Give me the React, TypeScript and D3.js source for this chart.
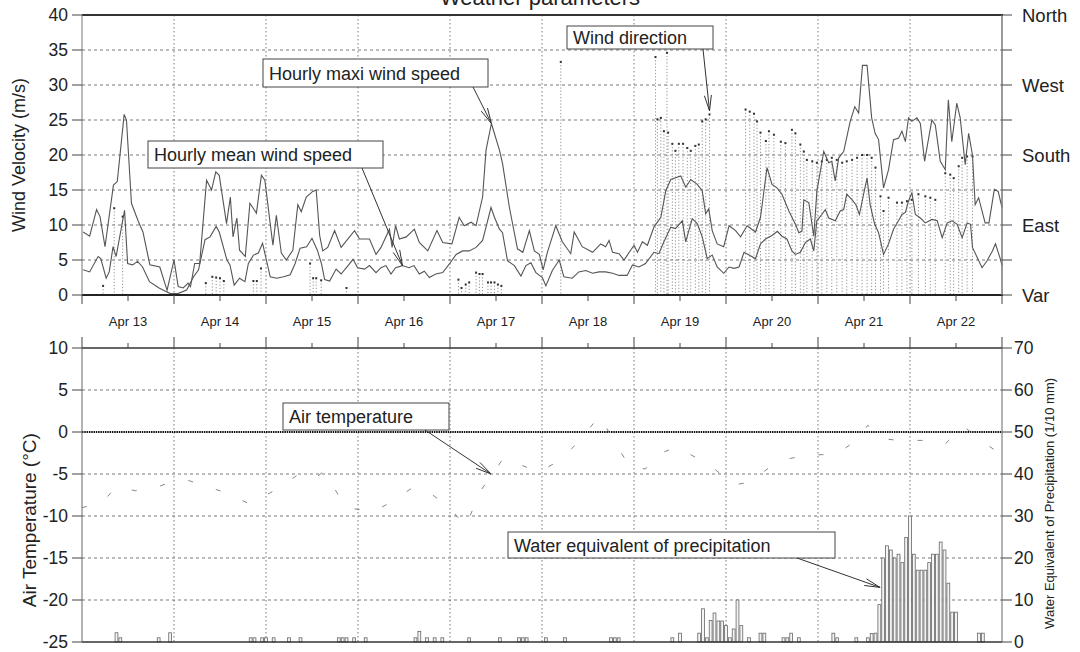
import React from "react";
import * as d3 from "d3";

// hours counted from Apr 13 00:00
const dayLabels = ["Apr 13", "Apr 14", "Apr 15", "Apr 16", "Apr 17", "Apr 18", "Apr 19", "Apr 20", "Apr 21", "Apr 22"];
const windTicks = [0, 5, 10, 15, 20, 25, 30, 35, 40];
const dirLabels = [
  { v: 40, t: "North" },
  { v: 30, t: "West" },
  { v: 20, t: "South" },
  { v: 10, t: "East" },
  { v: 0, t: "Var" },
];
const tempTicks = [10, 5, 0, -5, -10, -15, -20, -25];
const precTicks = [0, 10, 20, 30, 40, 50, 60, 70];

const maxWind = [
  [0.3, 9], [2, 8.4], [3.8, 12.2], [4.7, 11.2], [6, 6.9], [8.2, 15.7], [9.2, 16.2], [11, 25.8], [11.6, 25],
  [12.9, 13.1], [14.7, 10.5], [15.9, 9], [17.7, 4.3], [20.3, 4], [21.6, 1.7], [22.2, 0.7], [24, 5], [25.1, 1.2],
  [26.4, 1], [27.7, 1.7], [28.3, 1.2], [29.4, 4.5], [30.7, 4.5], [32.5, 16.4], [33.8, 15], [34.9, 17.6],
  [35.8, 17.1], [37.7, 10.2], [38.7, 14], [39.4, 8.3], [40.4, 11], [41.1, 6.4], [42.6, 5.5], [43.8, 13.1],
  [45.5, 11.7], [46.8, 17.1], [47.7, 16.4], [49.8, 7.1], [50.7, 11.4], [52, 6], [53.3, 5], [55, 6.4],
  [56.3, 12.9], [57.2, 11.9], [58.5, 14], [60.2, 14.8], [61.1, 15], [62, 8.5], [62.8, 6.3], [64.1, 6.8],
  [65.9, 9.2], [67.6, 6.8], [71.1, 9.2], [72.4, 8], [75, 8], [76.7, 5.8], [78, 6.8], [80.2, 9.4], [80.9, 6.8],
  [81.8, 9.9], [82.8, 8], [84.6, 8.3], [86.7, 9.4], [88, 7.5], [90.2, 6.3], [92.6, 9.2], [94.1, 7.5],
  [96.5, 7.3], [98.4, 11.1], [99.7, 9.9], [101.5, 10.4], [102.8, 9.9], [104.5, 14], [105.4, 20.7],
  [106.8, 24.5], [108.9, 20.7], [109.7, 18.8], [111.5, 12.5], [113.6, 6.6], [115, 6.1], [116.7, 9.2],
  [118, 6.3], [119.3, 5.8], [120.3, 3.6], [121.4, 6.1], [123.6, 9.9], [125.3, 7.6], [127.5, 5.9], [128.4, 9],
  [130.5, 6.9], [133.2, 6.1], [135.3, 7.3], [136.6, 6.9], [137.5, 7.8], [138.4, 6.1], [140.1, 5.9], [141.4, 5],
  [144, 7.1], [144.9, 6.1], [146.2, 7.6], [147.5, 7.1], [149.2, 9.7], [151, 11.1], [152.3, 14.9], [153.6, 16.5],
  [156.2, 17], [157.5, 15.4], [158.8, 16.5], [160.5, 15.8], [161.8, 14.9], [162.7, 11.6], [163.5, 12.3],
  [164.4, 9.2], [165.7, 7.3], [167.4, 6.9], [168.8, 9.9], [170.5, 9.2], [171.8, 8.3], [173.5, 9.9], [175.7, 9],
  [177, 11.1], [178.7, 18.2], [180, 15.8], [181.3, 15.3], [182.6, 14.4], [184.4, 12], [186.1, 10.1], [187, 8.9],
  [187.8, 9.1], [188.3, 13.6], [189.6, 13.2], [190.9, 8.4], [191.7, 14.8], [193.5, 20.5], [194.8, 18.9],
  [195.6, 19.1], [196.5, 16.3], [197.4, 19.6], [198.7, 20.5], [200.4, 24.8], [201.6, 26.9], [202.6, 26],
  [203.6, 32.8], [204.8, 32.8], [206, 25.3], [206.9, 23.1], [207.8, 22.2], [209.1, 15.3], [210.4, 17.9],
  [211.7, 22.2], [213, 22.4], [213.9, 23.4], [214.8, 21.9], [215.6, 25.3], [216.5, 24.8], [217.8, 25.3],
  [218.7, 24.5], [219.8, 19.1], [221.7, 25], [222.6, 24.3], [223.9, 19.1], [225.2, 17.9], [226, 27.9],
  [226.9, 21.9], [228.2, 27.4], [229.1, 25.3], [230.4, 18.6], [231.3, 23.1], [232.3, 20], [233, 12.9],
  [233.9, 13.9], [235.6, 10.3], [236.6, 10.3], [238, 15.1], [239, 14.8], [240, 12.5],
];

const meanWind = [
  [0.3, 3.6], [2, 3.3], [4.2, 5.5], [4.9, 5.2], [6.3, 2.4], [7.1, 3.3], [8.1, 6.9], [8.9, 5.5], [11.1, 12.1],
  [11.9, 4.5], [13.2, 4.3], [14.5, 4.8], [15.8, 4], [17.6, 1.9], [20.1, 1], [21.9, 0.5], [23.1, 0.2], [25, 0.2],
  [27.3, 0.7], [29.1, 2.6], [30.4, 3.6], [32.1, 7.9], [33.4, 8.3], [35, 9.8], [35.8, 9], [37.8, 5], [38.6, 4.3],
  [39.7, 1.4], [41.1, 2.4], [42.5, 1.9], [43.4, 4.5], [44.7, 5.7], [46, 6], [47.1, 7.4], [48.1, 5], [49.1, 2.6],
  [50.8, 2.4], [52.6, 2.6], [54.3, 2.9], [55.6, 4.5], [56.9, 6.7], [58.6, 6.9], [60, 8.1], [61.4, 6.4],
  [62.5, 4.4], [63.3, 2.2], [64.6, 2], [66.3, 3.7], [67.6, 3], [69.4, 4.2], [70.7, 5.1], [71.9, 3.9], [73.7, 3.7],
  [75, 4.2], [76.7, 3.2], [78, 3.9], [79.3, 4.2], [80.6, 3], [81.8, 3.9], [83.6, 4.2], [85.3, 3.9], [86.6, 4.2],
  [88, 3], [89.3, 3.4], [90.6, 2.5], [92.3, 3], [94.1, 3.2], [95.8, 4.4], [97.6, 5.8], [99.3, 6.3], [101, 6.3],
  [102.8, 6.8], [104.5, 7.8], [105.4, 9.7], [106.7, 12.5], [107.6, 11.1], [108.9, 9.4], [109.7, 8.9], [111, 4.9],
  [112.8, 4.2], [114.5, 2.7], [115.8, 4.2], [117.1, 4.6], [118.4, 3.2], [120.1, 2.5], [121, 1.3], [122.7, 3.5],
  [124.5, 5], [125.7, 2.6], [127.9, 2.4], [129.6, 3.3], [131.4, 3.5], [133.2, 3.1], [134.9, 3.3], [136.6, 3.3],
  [138.4, 3.1], [140.1, 2.8], [142.2, 2.8], [143.6, 4.3], [145.3, 4], [147, 4.5], [149.2, 6.1], [150.5, 5.9],
  [151.8, 7.6], [153.6, 9.7], [154.8, 9.5], [156.6, 10.6], [157.5, 7.6], [158.3, 9.2], [159.2, 10.9],
  [160.5, 10.2], [161.8, 8.3], [163.1, 5.2], [164.4, 5.7], [165.7, 4], [167.4, 3.1], [168.8, 4], [170.1, 3.8],
  [171.4, 4], [172.7, 6.1], [174, 5.7], [175.7, 5.2], [177, 7.3], [178.3, 8], [180, 8.5], [181.4, 9.1],
  [182.6, 8.4], [183.9, 8], [185.2, 6.3], [186.1, 5.8], [187.4, 6.1], [188.7, 7.5], [190, 8], [190.9, 6.3],
  [191.7, 10.6], [193, 11.5], [193.9, 12.2], [194.8, 11], [196.5, 10.6], [197.8, 12], [198.7, 12.2],
  [199.5, 14.4], [200.9, 13.6], [201.9, 12.9], [202.8, 11.5], [203.9, 14.4], [204.8, 16.7], [205.6, 12.9],
  [206.8, 10.1], [207.8, 8.9], [209.1, 5.8], [210.4, 7.3], [211.7, 9.4], [213, 10.6], [213.9, 11.5],
  [214.8, 11.8], [215.6, 13.4], [216.5, 14.6], [217.4, 11.5], [218.7, 11], [220, 10.3], [221.7, 10.8],
  [223.1, 10.6], [224.4, 8.2], [225.7, 10.3], [227, 10.6], [228.3, 10.1], [229.6, 8.2], [230.9, 10.3],
  [231.8, 10.1], [232.3, 6.8], [233.5, 5.4], [234.8, 3.9], [236.1, 4.9], [237.5, 6.3], [238.3, 7.3],
  [239.6, 5.1], [240, 4.2],
];

const windDir = [
  [5.5, 1.3], [8.4, 12.4], [10.6, 11.2], [32.3, 1.7], [34, 2.6], [35, 2.5], [36, 2.4], [37, 2], [44.7, 2],
  [45.6, 2], [46.7, 3.8], [59.5, 4.5], [60.3, 2.4], [61.1, 2.4], [62.4, 2.1], [69, 1], [98.2, 2.2], [99, 1],
  [100.1, 1.5], [101, 1.8], [102.8, 3.2], [103.7, 3], [104.5, 3], [105.9, 1.8], [106.7, 1.8], [107.6, 1.8],
  [108.5, 1.5], [109.4, 1.3], [124.9, 33.3], [149.6, 34], [150.1, 25.1], [151, 25.3], [151.8, 23.4],
  [152.6, 34.6], [152.9, 23.2], [154, 21.6], [154.8, 20.6], [155.7, 21.6], [156.8, 21.6], [157.9, 21],
  [158.8, 20.6], [160, 21.3], [160.9, 21.5], [161.8, 24.8], [162.7, 25.1], [163.7, 25.8], [173.1, 26.5],
  [174.2, 26.2], [175.3, 25.9], [176.1, 24.8], [177, 23.2], [178.4, 22], [179.2, 23.4], [180.5, 22.9],
  [182.3, 21.9], [183.5, 21.7], [185.2, 23.6], [186.1, 23.1], [187.4, 21.5], [188.3, 20.5], [189.1, 19.3],
  [190.5, 19.1], [191.7, 18.9], [193, 19.1], [194.3, 19.3], [195.6, 19.6], [196.9, 19.3], [198.3, 18.9],
  [199.5, 19.1], [200.9, 19.3], [202.2, 19.6], [203.5, 20], [204.8, 20], [206, 19.6], [207, 18.2],
  [208.3, 14.1], [209.1, 12], [210.4, 13.9], [212.6, 13.2], [213.9, 13.2], [215.2, 13.4], [216.5, 13.6],
  [218.2, 14.4], [220, 14.1], [221.3, 13.9], [222.6, 13.6], [225.2, 17.4], [226.5, 17.2], [227.4, 16.7],
  [228.7, 18.4], [229.6, 19.6], [230.9, 19.8], [232.3, 19.8],
];

const airTemp = [
  [0, -9], [5, -8.5], [9, -6.5], [14, -7], [20, -6.5], [24, -5.8], [28, -5.8], [36, -7], [44, -8.6], [50, -7],
  [56, -5.2], [60, -5.8], [63, -4.7], [69, -9], [76, -9.5], [80, -8.5], [86, -6.7], [90, -7], [96, -9],
  [100, -11.3], [104, -7], [107, -5], [110, -3.1], [116, -4.2], [119, -4.8], [125, -3.3], [130, -0.9],
  [135, 1.9], [140, -2], [143, -4.2], [147, -4.4], [150, -2.7], [155, -1.8], [160, -3], [165, -4.4],
  [170, -6.3], [174, -6], [180, -4], [184, -3.2], [189, -2.8], [197, -2.6], [202, -1], [205, 0.8], [209, -0.8],
  [213, -1], [220, -1], [225, -1.5], [230, 0.7], [234, -0.9], [238, -2.1], [240, -2.5],
];

// hourly precipitation (hour index, 1/10 mm)
const precip = [
  [9, 2.2], [10, 1], [20, 1], [23, 2.2], [44, 1], [45, 1], [47, 1], [48, 1], [50, 1], [54, 1], [57, 1], [67, 1],
  [68, 1], [69, 1], [71, 1], [74, 1], [87, 1], [88, 2.5], [90, 1], [92, 1], [94, 1], [101, 1], [109, 1], [114, 1],
  [115, 1], [116, 1], [121, 1], [126, 1], [138, 1], [139, 1], [140, 1], [154, 1], [156, 2.1], [161, 2.1],
  [162, 7.9], [163, 1], [164, 5.1], [165, 6.9], [166, 5], [167, 5], [168, 3.9], [169, 1], [170, 3.1], [171, 10],
  [172, 3.9], [174, 1], [177, 2.1], [178, 2.1], [183, 1], [184, 1], [185, 2.1], [187, 1], [196, 2.1], [197, 1],
  [202, 1], [205, 1], [206, 2], [207, 2.1], [208, 8.9], [209, 20], [210, 22.9], [211, 21.9], [212, 20],
  [213, 20.9], [214, 18.9], [215, 24.9], [216, 30], [217, 20.9], [218, 17.1], [219, 17.1], [220, 17.1],
  [221, 18.9], [222, 20.9], [223, 20.9], [224, 23.8], [225, 21.9], [226, 14], [227, 7.1], [228, 7.1],
  [234, 2.1], [235, 2.1],
];

const FONT = "'Liberation Sans', Arial, Helvetica, sans-serif";
const INK = "#222";

function Callout({ x, y, w, h, label, from, to }) {
  const ang = Math.atan2(to[1] - from[1], to[0] - from[0]);
  const len = 16;
  const spread = 0.22;
  const b1 = [to[0] - len * Math.cos(ang - spread), to[1] - len * Math.sin(ang - spread)];
  const b2 = [to[0] - len * Math.cos(ang + spread), to[1] - len * Math.sin(ang + spread)];
  return (
    <g>
      <rect x={x} y={y} width={w} height={h} fill="#fff" stroke="#444" strokeWidth={1} />
      <text x={x + 6} y={y + h / 2 + 6.5} fontSize={18} fontFamily={FONT} fill={INK}>
        {label}
      </text>
      <line x1={from[0]} y1={from[1]} x2={to[0]} y2={to[1]} stroke="#333" strokeWidth={1} />
      <line x1={b1[0]} y1={b1[1]} x2={to[0]} y2={to[1]} stroke="#333" strokeWidth={1} />
      <line x1={b2[0]} y1={b2[1]} x2={to[0]} y2={to[1]} stroke="#333" strokeWidth={1} />
    </g>
  );
}

export default function App() {
  const width = 1080;
  const height = 652;

  const x = d3.scaleLinear().domain([0, 240]).range([82, 1002]);
  const yWind = d3.scaleLinear().domain([0, 40]).range([295, 15]);
  const yTemp = d3.scaleLinear().domain([-25, 10]).range([642, 348]);
  const yPrec = d3.scaleLinear().domain([0, 70]).range([642, 348]);

  const windLine = d3
    .line()
    .x((d) => x(d[0]))
    .y((d) => yWind(d[1]));
  const tempLine = d3
    .line()
    .x((d) => x(d[0]))
    .y((d) => yTemp(d[1]));

  const days = d3.range(0, 241, 24);
  const noons = d3.range(12, 240, 24);
  const barW = x(1) - x(0);

  const [L, R] = x.range();

  return (
    <svg
      width={width}
      height={height}
      style={{ position: "absolute", left: 0, top: 0, background: "#fff" }}
    >
      <rect width={width} height={height} fill="#fff" />

      {/* title, cut at the page top as in the scan */}
      <text x={540} y={5} textAnchor="middle" fontSize={22} fontFamily={FONT} fill={INK}>
        Weather parameters
      </text>

      {/* ---------- top panel ---------- */}
      <g className="grid-top" stroke="#555" strokeWidth={0.8} strokeDasharray="3,3">
        {windTicks.slice(1, -1).map((t) => (
          <line key={t} x1={L} x2={R} y1={yWind(t)} y2={yWind(t)} />
        ))}
        {days.slice(1, -1).map((d) => (
          <line key={d} x1={x(d)} x2={x(d)} y1={yWind(40)} y2={yWind(0)} strokeDasharray="1.5,2.5" />
        ))}
      </g>

      {/* wind direction drop lines + dots */}
      <g>
        {windDir.map((d, i) => (
          <line
            key={i}
            x1={x(d[0])}
            x2={x(d[0])}
            y1={yWind(d[1])}
            y2={yWind(0)}
            stroke="#888"
            strokeWidth={0.9}
            strokeDasharray="1.2,2"
          />
        ))}
        {windDir.map((d, i) => (
          <rect key={i} x={x(d[0]) - 1} y={yWind(d[1]) - 1} width={2} height={2} fill="#333" />
        ))}
      </g>

      <path d={windLine(maxWind)} fill="none" stroke="#555" strokeWidth={1.1} />
      <path d={windLine(meanWind)} fill="none" stroke="#555" strokeWidth={1.1} />

      {/* top frame */}
      <line x1={L} x2={R + 1} y1={yWind(40)} y2={yWind(40)} stroke="#333" strokeWidth={2} />
      <line x1={L} x2={R + 1} y1={yWind(0)} y2={yWind(0)} stroke="#222" strokeWidth={2} />
      <line x1={L} x2={L} y1={yWind(40)} y2={yWind(0)} stroke="#777" strokeWidth={1} />
      <line x1={R} x2={R} y1={yWind(40)} y2={yWind(0)} stroke="#777" strokeWidth={1.5} />

      {/* left axis */}
      <g fontFamily={FONT} fontSize={17.5} fill={INK}>
        {windTicks.map((t) => (
          <g key={t}>
            <line x1={L - 10} x2={L} y1={yWind(t)} y2={yWind(t)} stroke="#444" />
            <text x={L - 14} y={yWind(t) + 6} textAnchor="end">
              {t}
            </text>
          </g>
        ))}
      </g>
      <text
        transform={`translate(25,${yWind(20)}) rotate(-90)`}
        textAnchor="middle"
        fontFamily={FONT}
        fontSize={18}
        fill={INK}
      >
        Wind Velocity (m/s)
      </text>

      {/* right axis: direction */}
      <g fontFamily={FONT} fontSize={18.5} fill={INK}>
        {windTicks.map((t) => (
          <line key={t} x1={R} x2={R + 10} y1={yWind(t)} y2={yWind(t)} stroke="#444" />
        ))}
        {dirLabels.map((d) => (
          <text key={d.t} x={R + 20} y={yWind(d.v) + 7}>
            {d.t}
          </text>
        ))}
      </g>

      {/* x ticks + day labels */}
      <g stroke="#444">
        {days.map((d) => (
          <line key={d} x1={x(d)} x2={x(d)} y1={yWind(0)} y2={yWind(0) + 9} />
        ))}
        {noons.map((d) => (
          <line key={d} x1={x(d)} x2={x(d)} y1={yWind(0)} y2={yWind(0) + 6} />
        ))}
      </g>
      <g fontFamily={FONT} fontSize={13} fill={INK}>
        {noons.map((d, i) => (
          <text key={d} x={x(d)} y={326} textAnchor="middle">
            {dayLabels[i]}
          </text>
        ))}
      </g>

      {/* ---------- bottom panel ---------- */}
      <g stroke="#555" strokeWidth={0.8} strokeDasharray="3,3">
        {[5, -5, -10, -15, -20].map((t) => (
          <line key={t} x1={L} x2={R} y1={yTemp(t)} y2={yTemp(t)} />
        ))}
        {days.slice(1, -1).map((d) => (
          <line key={d} x1={x(d)} x2={x(d)} y1={yTemp(10)} y2={yTemp(-25)} strokeDasharray="1.5,2.5" />
        ))}
      </g>
      <line
        x1={L}
        x2={R}
        y1={yTemp(0)}
        y2={yTemp(0)}
        stroke="#111"
        strokeWidth={2}
        strokeDasharray="1.5,0.8"
      />

      {/* precipitation bars */}
      <g>
        {precip.map((d, i) => (
          <rect
            key={i}
            x={x(d[0] - 0.5) + 0.5}
            y={yPrec(d[1])}
            width={barW - 1}
            height={yPrec(0) - yPrec(d[1])}
            fill="#f4f4f4"
            stroke="#666"
            strokeWidth={0.8}
          />
        ))}
      </g>

      {/* air temperature (faint, broken trace) */}
      <path
        d={tempLine(airTemp)}
        fill="none"
        stroke="#777"
        strokeWidth={0.9}
        strokeDasharray="5,24"
      />

      {/* bottom frame */}
      <line x1={L} x2={R} y1={yTemp(10)} y2={yTemp(10)} stroke="#333" strokeWidth={1.5} />
      <line x1={L} x2={R} y1={yTemp(-25)} y2={yTemp(-25)} stroke="#333" strokeWidth={1.5} />
      <line x1={L} x2={L} y1={yTemp(10)} y2={yTemp(-25)} stroke="#666" strokeWidth={1} />
      <line x1={R} x2={R} y1={yTemp(10)} y2={yTemp(-25)} stroke="#666" strokeWidth={1} />

      <g stroke="#444">
        {days.map((d) => (
          <line key={d} x1={x(d)} x2={x(d)} y1={yTemp(10) - 11} y2={yTemp(10)} />
        ))}
        {noons.map((d) => (
          <line key={d} x1={x(d)} x2={x(d)} y1={yTemp(10) - 5} y2={yTemp(10)} />
        ))}
      </g>

      <g fontFamily={FONT} fontSize={17.5} fill={INK}>
        {tempTicks.map((t) => (
          <g key={t}>
            <line x1={L - 10} x2={L} y1={yTemp(t)} y2={yTemp(t)} stroke="#444" />
            <text x={L - 14} y={yTemp(t) + 6} textAnchor="end">
              {t}
            </text>
          </g>
        ))}
        {precTicks.map((t) => (
          <g key={t}>
            <line x1={R} x2={R + 10} y1={yPrec(t)} y2={yPrec(t)} stroke="#444" />
            <text x={R + 12} y={yPrec(t) + 6}>
              {t}
            </text>
          </g>
        ))}
      </g>
      <text
        transform={`translate(36,${yTemp(-10.5)}) rotate(-90)`}
        textAnchor="middle"
        fontFamily={FONT}
        fontSize={19}
        fill={INK}
      >
        Air Temperature (°C)
      </text>
      <text
        transform={`translate(1054,${yPrec(33)}) rotate(-90)`}
        textAnchor="middle"
        fontFamily={FONT}
        fontSize={13}
        fill={INK}
      >
        Water Equivalent of Precipitation (1/10 mm)
      </text>

      {/* ---------- callouts ---------- */}
      <Callout
        x={263}
        y={59}
        w={225}
        h={28}
        label="Hourly maxi wind speed"
        from={[473, 87]}
        to={[x(106.8), yWind(24.5)]}
      />
      <Callout
        x={148}
        y={141}
        w={235}
        h={27}
        label="Hourly mean wind speed"
        from={[362, 168]}
        to={[x(83.6), yWind(4.2)]}
      />
      <Callout
        x={567}
        y={26}
        w={146}
        h={23}
        label="Wind direction"
        from={[703, 49]}
        to={[x(163.7), yWind(26.3)]}
      />
      <Callout
        x={283}
        y={403}
        w={166}
        h={27}
        label="Air temperature"
        from={[425, 430]}
        to={[x(106.7), yTemp(-5)]}
      />
      <Callout
        x={508}
        y={532}
        w={327}
        h={26}
        label="Water equivalent of precipitation"
        from={[797, 558]}
        to={[x(208.2), yPrec(13)]}
      />
    </svg>
  );
}
